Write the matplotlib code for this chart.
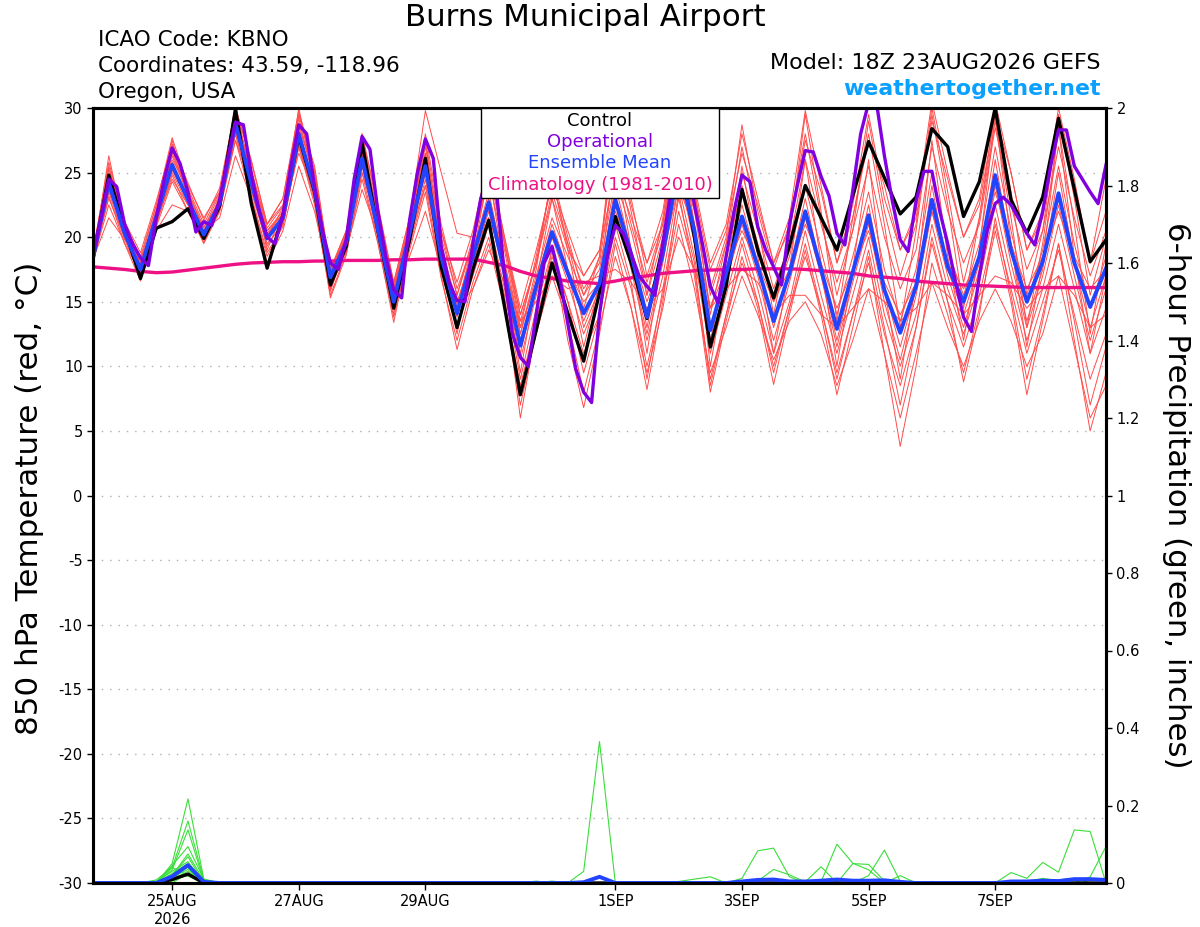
import numpy as np
import matplotlib.pyplot as plt
from matplotlib.patches import Rectangle
from matplotlib.ticker import FuncFormatter

plt.rcParams['font.family'] = ['DejaVu Sans']
plt.rcParams['axes.unicode_minus'] = False

# GEFS 18Z 23AUG2026, 6-hourly steps 0..384h (operational run is 3-hourly)
tick_steps = [5, 13, 21, 33, 41, 49, 57]
tick_labels = ['25AUG\n2026', '27AUG', '29AUG', '1SEP', '3SEP', '5SEP', '7SEP']

control = [18.3, 24.8, 20.6, 16.8, 20.7, 21.2, 22.2, 19.9, 22.4, 29.9, 22.6, 17.6, 21.7,
           27.8, 23.5, 16.3, 19.3, 27.3, 20.5, 14.5, 19.8, 26.1, 17.7, 13.0, 17.5,
           21.3, 14.6, 7.8, 12.8, 18.0, 14.1, 10.4, 15.7, 21.6, 18.0, 13.7, 19.3,
           26.5, 20.0, 11.5, 16.2, 23.7, 19.0, 15.3, 19.3, 24.0, 21.5, 19.0, 23.2,
           27.4, 24.6, 21.8, 23.1, 28.4, 27.0, 21.6, 24.3, 30.0, 22.9, 20.3, 23.1,
           29.2, 23.7, 18.1, 19.8]

ens_mean = [18.4, 24.2, 20.3, 17.5, 21.6, 25.6, 22.9, 20.2, 22.6, 28.8, 24.2, 19.9, 21.5,
            28.0, 23.7, 16.9, 19.6, 26.1, 20.6, 15.0, 20.3, 25.5, 18.5, 14.1, 18.5,
            22.7, 17.2, 11.6, 16.2, 20.4, 17.2, 14.1, 16.4, 22.9, 18.7, 13.8, 18.7,
            25.5, 20.5, 12.8, 17.2, 21.6, 17.7, 13.5, 17.2, 22.0, 17.5, 12.9, 17.3,
            21.7, 15.9, 12.6, 16.2, 22.9, 17.7, 15.0, 18.5, 24.8, 19.0, 15.0, 18.1,
            23.4, 18.0, 14.6, 17.6]

operational = [18.6, 21.5, 24.5, 23.9, 21.0, 19.5, 18.4, 17.8,
               21.5, 24.5, 26.9, 25.7, 23.5, 20.4, 21.2, 20.9,
               22.9, 26.0, 28.9, 28.7, 24.9, 22.0, 20.0, 19.5,
               21.7, 25.5, 28.7, 28.0, 23.9, 20.5, 18.0, 17.5,
               19.8, 24.5, 27.8, 26.8, 22.0, 18.5, 15.9, 15.3,
               21.3, 25.0, 27.6, 26.1, 19.3, 16.5, 15.1, 15.0,
               19.5, 23.0, 24.8, 23.5, 17.0, 12.5, 10.7, 10.0,
               14.0, 18.0, 19.3, 16.8, 13.3, 9.8, 8.0, 7.2,
               14.0, 18.5, 20.9, 20.3, 18.7, 17.0, 16.2, 15.5,
               19.5, 23.5, 26.5, 26.0, 22.5, 19.5, 16.2, 14.9,
               18.5, 22.0, 24.8, 24.3, 20.8, 19.0, 17.7, 16.3,
               21.0, 24.0, 26.7, 26.6, 24.7, 23.2, 20.3, 19.4,
               23.6, 28.0, 30.4, 30.4, 26.3, 22.8, 19.8, 18.9,
               22.8, 25.1, 25.1, 22.0, 19.5, 16.5, 13.8, 12.7,
               17.0, 20.5, 22.6, 23.1, 22.5, 21.4, 20.3, 19.4,
               22.0, 25.5, 28.3, 28.3, 25.5, 24.5, 23.5, 22.6,
               25.6]

climo = [17.7, 17.6, 17.5, 17.35, 17.25, 17.3, 17.45, 17.6, 17.75, 17.9, 18.0, 18.05, 18.1,
         18.1, 18.15, 18.15, 18.2, 18.2, 18.2, 18.25, 18.25, 18.3, 18.3, 18.3, 18.3,
         18.05, 17.8, 17.35, 17.0, 16.8, 16.6, 16.5, 16.4, 16.6, 16.85, 17.0, 17.2,
         17.3, 17.4, 17.45, 17.5, 17.5, 17.55, 17.55, 17.55, 17.5, 17.4, 17.3, 17.2,
         17.0, 16.9, 16.8, 16.6, 16.5, 16.4, 16.3, 16.25, 16.2, 16.15, 16.1, 16.1,
         16.1, 16.1, 16.1, 16.1]

m01 = [18.8, 25.0, 20.8, 18.0, 22.0, 26.5, 23.5, 20.5, 23.0, 29.5, 25.0, 20.5, 22.0,
       28.8, 24.5, 17.5, 20.0, 27.0, 21.5, 16.0, 21.0, 27.0, 20.0, 15.5, 19.5,
       25.0, 19.5, 13.5, 18.0, 23.5, 19.5, 16.0, 18.0, 26.0, 21.0, 16.5, 20.5,
       28.0, 23.0, 15.5, 19.5, 25.0, 20.5, 16.0, 19.5, 26.0, 21.0, 16.5, 20.5,
       25.5, 20.0, 16.0, 19.0, 27.0, 22.0, 18.0, 21.0, 28.5, 22.5, 17.5, 20.5,
       27.0, 21.5, 17.0, 20.5]
m02 = [18.0, 23.5, 19.8, 17.0, 21.0, 24.8, 22.0, 19.5, 22.0, 27.5, 23.0, 18.5, 21.0,
       27.0, 22.5, 15.5, 18.8, 24.5, 19.5, 13.8, 19.0, 23.5, 16.8, 12.0, 16.5,
       20.0, 15.0, 8.5, 13.5, 18.5, 15.0, 11.0, 14.0, 20.0, 16.0, 10.0, 15.5,
       22.0, 17.5, 9.0, 14.0, 18.0, 15.0, 10.0, 14.5, 18.5, 14.5, 9.5, 14.0,
       18.0, 12.5, 8.5, 13.0, 19.5, 15.0, 11.5, 15.5, 21.0, 16.0, 11.0, 15.0,
       19.0, 14.0, 9.0, 12.5]
m03 = [18.5, 26.3, 20.5, 16.8, 21.8, 27.5, 23.0, 19.8, 23.2, 30.3, 24.5, 19.0, 22.0,
       30.0, 24.0, 15.8, 19.5, 28.0, 20.8, 14.0, 20.5, 27.5, 18.5, 12.5, 18.5,
       25.0, 17.5, 9.5, 16.5, 23.0, 17.5, 11.5, 16.5, 26.5, 19.0, 11.0, 19.0,
       28.5, 21.0, 10.0, 17.0, 25.5, 18.5, 11.0, 17.5, 26.0, 18.0, 10.0, 17.5,
       26.0, 16.0, 9.0, 16.5, 27.5, 18.5, 12.0, 19.0, 29.5, 19.5, 11.5, 18.0,
       28.5, 18.5, 11.0, 17.0]
m04 = [18.6, 24.5, 20.5, 18.2, 22.5, 26.0, 23.8, 21.0, 23.5, 28.5, 25.0, 21.0, 22.5,
       28.5, 25.0, 17.5, 20.5, 26.5, 22.0, 16.5, 21.5, 26.5, 20.5, 16.5, 20.5,
       26.0, 20.0, 14.5, 19.0, 24.0, 20.5, 17.0, 19.0, 27.5, 22.5, 18.0, 22.0,
       29.5, 24.0, 18.0, 21.0, 28.0, 23.0, 18.0, 21.5, 29.8, 24.0, 18.0, 22.5,
       29.5, 23.0, 19.0, 22.0, 30.5, 25.0, 20.0, 23.0, 30.5, 25.0, 19.0, 22.0,
       30.0, 24.5, 18.0, 24.5]
m05 = [18.2, 22.5, 19.5, 17.2, 21.0, 25.0, 22.5, 19.8, 22.2, 28.0, 23.5, 19.5, 21.0,
       27.0, 23.0, 16.0, 19.0, 25.5, 20.0, 14.5, 19.5, 24.5, 17.5, 13.0, 17.0,
       21.0, 15.5, 6.0, 13.0, 19.0, 12.0, 6.8, 12.5, 19.5, 14.5, 8.2, 15.0,
       23.5, 17.0, 8.0, 13.5, 18.5, 14.5, 8.6, 14.0, 19.0, 14.0, 7.8, 13.0,
       18.5, 11.0, 3.8, 10.0, 18.0, 14.0, 9.5, 14.5, 20.5, 15.0, 7.8, 13.5,
       19.5, 12.0, 5.0, 9.5]
m06 = [18.4, 23.0, 20.0, 18.0, 21.2, 24.5, 22.5, 20.5, 22.5, 27.5, 24.0, 20.5, 21.8,
       26.5, 23.5, 17.5, 19.8, 25.0, 21.0, 16.0, 20.0, 24.0, 19.0, 15.0, 18.5,
       21.5, 18.0, 13.0, 16.5, 20.0, 17.5, 15.0, 16.5, 22.0, 19.0, 15.0, 18.5,
       24.0, 20.5, 14.5, 17.5, 20.5, 18.0, 15.0, 17.5, 21.0, 18.0, 14.5, 17.5,
       20.5, 16.5, 14.0, 16.5, 22.0, 18.0, 16.0, 18.5, 23.5, 19.5, 16.0, 18.5,
       22.0, 18.5, 16.0, 17.5]
m07 = [19.0, 25.5, 21.0, 18.5, 22.5, 27.7, 24.0, 21.5, 23.5, 30.0, 26.0, 21.0, 23.0,
       29.5, 25.5, 17.5, 20.5, 28.0, 22.5, 16.5, 21.5, 29.8, 25.0, 20.3, 20.0,
       26.0, 20.0, 14.0, 18.0, 24.8, 19.0, 13.0, 16.0, 23.0, 17.5, 12.0, 17.0,
       24.0, 18.5, 11.0, 15.5, 20.0, 16.0, 11.0, 15.0, 20.5, 15.5, 11.0, 15.5,
       20.0, 14.0, 10.0, 14.0, 21.0, 16.0, 12.5, 16.5, 22.5, 17.0, 12.0, 16.0,
       21.0, 16.0, 11.0, 14.5]
m08 = [18.3, 21.5, 19.8, 18.5, 20.5, 22.5, 22.0, 20.5, 21.5, 26.3, 23.0, 18.0, 20.5,
       25.5, 22.0, 16.5, 19.0, 23.7, 20.2, 16.5, 18.5, 22.0, 17.5, 14.5, 16.0,
       19.0, 16.5, 13.5, 15.0, 17.0, 16.0, 16.5, 17.0, 17.5, 16.5, 14.5, 16.0,
       20.0, 17.5, 14.5, 16.0, 17.5, 16.5, 14.0, 15.5, 15.5, 14.0, 13.0, 14.5,
       16.0, 15.0, 13.5, 14.5, 16.5, 15.5, 14.0, 15.5, 17.0, 16.5, 14.5, 16.0,
       17.0, 15.5, 13.0, 14.0]
m09 = [18.7, 24.8, 20.8, 17.5, 21.5, 26.8, 23.2, 20.0, 23.0, 29.8, 24.8, 20.0, 22.3,
       29.2, 24.2, 16.0, 19.5, 27.5, 21.8, 15.5, 20.8, 26.5, 19.5, 14.5, 19.5,
       24.5, 19.0, 12.5, 17.5, 25.0, 20.0, 15.5, 18.5, 29.6, 23.0, 17.0, 21.0,
       29.5, 23.5, 16.0, 20.0, 28.7, 22.0, 17.5, 21.0, 28.0, 21.5, 15.5, 20.5,
       29.0, 22.0, 17.0, 21.0, 30.0, 23.5, 16.5, 21.5, 30.0, 23.5, 15.5, 20.5,
       29.5, 23.0, 15.5, 20.0]
m10 = [18.1, 23.8, 20.0, 17.2, 21.2, 25.2, 22.8, 20.0, 22.3, 28.3, 23.8, 19.3, 21.2,
       27.5, 23.0, 16.3, 19.2, 25.8, 20.3, 14.8, 20.0, 25.0, 18.0, 13.0, 17.5,
       21.5, 16.0, 9.0, 14.5, 19.0, 15.0, 9.5, 14.0, 21.0, 16.5, 9.0, 16.0,
       23.0, 18.0, 8.5, 14.0, 19.5, 15.0, 9.5, 14.5, 19.5, 14.5, 9.0, 14.0,
       19.0, 13.0, 7.0, 13.0, 20.0, 15.0, 8.8, 14.0, 21.5, 15.5, 9.0, 14.0,
       19.5, 13.5, 7.0, 11.5]
m11 = [18.5, 24.3, 20.2, 17.4, 21.7, 25.8, 23.0, 20.3, 22.8, 29.0, 24.3, 20.0, 21.7,
       28.3, 23.8, 17.0, 19.8, 26.5, 20.8, 15.2, 20.5, 25.8, 18.8, 14.0, 18.8,
       23.5, 17.8, 11.0, 16.5, 21.0, 17.5, 13.5, 16.5, 24.0, 19.0, 13.0, 19.0,
       27.0, 21.0, 12.0, 17.5, 22.5, 18.0, 13.0, 17.5, 23.0, 17.5, 12.0, 17.0,
       22.5, 16.0, 11.5, 16.0, 24.0, 17.5, 14.0, 18.0, 26.0, 19.0, 13.5, 17.5,
       25.0, 18.0, 13.0, 17.0]
m12 = [18.3, 24.0, 20.3, 17.8, 21.8, 26.3, 23.3, 20.8, 22.8, 28.8, 24.5, 20.3, 21.8,
       28.0, 24.0, 17.2, 20.0, 26.3, 21.0, 15.8, 20.8, 25.3, 18.8, 14.8, 19.0,
       23.0, 18.0, 12.5, 17.0, 21.5, 18.5, 15.5, 17.5, 24.5, 20.5, 15.5, 20.0,
       26.5, 22.0, 14.5, 18.5, 24.0, 19.5, 15.0, 18.5, 24.0, 19.0, 14.0, 18.5,
       23.5, 17.5, 13.5, 17.5, 25.0, 19.0, 15.5, 19.5, 27.0, 20.5, 15.0, 19.0,
       25.5, 19.5, 14.5, 18.5]
m13 = [18.0, 23.2, 19.5, 16.6, 20.8, 24.3, 22.0, 19.6, 22.0, 28.0, 23.2, 18.8, 20.8,
       27.2, 22.8, 15.3, 18.6, 25.0, 19.6, 13.4, 19.3, 24.0, 17.0, 11.3, 16.0,
       19.5, 14.5, 7.0, 12.5, 17.0, 13.5, 8.0, 13.0, 18.5, 14.5, 9.5, 14.5,
       21.0, 16.0, 9.5, 13.0, 17.0, 14.0, 10.5, 13.5, 15.0, 12.5, 8.5, 12.0,
       16.0, 11.0, 6.0, 11.0, 16.5, 13.0, 10.0, 13.5, 16.0, 13.5, 10.0, 12.5,
       17.0, 11.5, 6.0, 8.5]
m14 = [18.6, 25.3, 21.0, 17.9, 22.2, 27.0, 23.6, 20.7, 23.3, 29.3, 25.3, 20.7, 22.4,
       29.5, 24.8, 17.0, 20.2, 27.3, 21.5, 15.8, 21.3, 27.5, 20.5, 15.5, 20.0,
       26.5, 19.5, 13.0, 18.5, 24.5, 19.5, 14.5, 18.5, 28.0, 22.0, 15.5, 21.5,
       29.5, 23.0, 14.0, 19.5, 27.0, 21.0, 14.0, 20.0, 29.5, 22.0, 13.5, 21.5,
       28.0, 21.0, 13.0, 20.5, 29.5, 22.5, 14.5, 21.5, 29.0, 21.5, 13.0, 19.5,
       28.5, 21.0, 12.5, 19.5]
m15 = [18.4, 23.6, 20.6, 18.2, 21.4, 25.3, 23.0, 20.3, 22.7, 28.2, 24.2, 20.2, 21.6,
       27.8, 23.3, 16.8, 19.4, 25.6, 20.5, 15.0, 20.2, 25.0, 18.5, 13.8, 18.0,
       22.0, 17.0, 10.5, 15.5, 20.0, 16.5, 12.5, 15.5, 22.5, 18.0, 12.5, 18.0,
       25.0, 19.5, 11.5, 16.5, 21.0, 17.0, 12.0, 16.5, 21.5, 17.0, 11.5, 16.5,
       21.0, 15.0, 10.5, 15.5, 22.0, 17.0, 13.0, 17.5, 24.0, 18.0, 13.0, 17.0,
       22.5, 17.0, 12.0, 16.0]
m16 = [18.9, 25.8, 21.2, 18.8, 22.8, 27.2, 24.2, 21.3, 23.8, 30.0, 25.8, 21.0, 23.0,
       29.8, 25.2, 17.3, 20.3, 27.8, 22.3, 16.3, 21.0, 28.0, 21.0, 16.0, 19.5,
       25.5, 19.5, 14.0, 18.0, 23.0, 19.0, 17.0, 19.0, 25.0, 21.5, 18.0, 21.0,
       28.0, 23.5, 17.5, 20.5, 26.5, 22.5, 18.0, 20.5, 27.5, 23.5, 18.0, 21.5,
       27.5, 24.0, 19.0, 21.5, 29.0, 24.5, 20.0, 22.5, 29.5, 25.0, 19.0, 21.5,
       29.0, 23.5, 18.0, 22.0]
members = [m01, m02, m03, m04, m05, m06, m07, m08, m09, m10, m11, m12, m13, m14, m15, m16]

# 6-hour precipitation (inches)
p01 = [0]*5 + [0.05, 0.217, 0.01] + [0]*23 + [0.03, 0.365] + [0]*32
p02 = [0]*5 + [0.034, 0.137, 0.005] + [0]*33 + [0.012, 0.083, 0.09, 0.016] + [0]*20
p03 = [0]*5 + [0.045, 0.094, 0.01] + [0]*34 + [0.005, 0.035, 0.021, 0.003, 0.042] + [0]*18
p04 = [0]*5 + [0.02, 0.068] + [0]*39 + [0.003, 0.1, 0.051, 0.034] + [0]*15
p05 = [0]*4 + [0.005, 0.03, 0.055] + [0]*42 + [0.019, 0.085, 0.004] + [0]*13
p06 = [0]*5 + [0.017, 0.04] + [0]*51 + [0.027, 0.012, 0.053, 0.028, 0.137, 0.133, 0.0]
p07 = [0]*5 + [0.01, 0.03] + [0]*56 + [0.016, 0.094]
p08 = [0]*4 + [0.008, 0.04, 0.02] + [0]*30 + [0.004, 0.01, 0.016] + [0]*25
p09 = [0]*6 + [0.025] + [0]*21 + [0.005] + [0]*19 + [0.05, 0.048, 0.005] + [0]*14
p10 = [0]*5 + [0.012, 0.018] + [0]*22 + [0.005] + [0]*29 + [0.004, 0.012, 0.006] + [0]*3
p11 = [0]*5 + [0.025, 0.05, 0.004] + [0]*43 + [0.019] + [0]*13
p12 = [0]*5 + [0.04, 0.16, 0.008] + [0]*57
p13 = [0]*5 + [0.015, 0.035] + [0]*58
p14 = [0]*5 + [0.02, 0.075, 0.006] + [0]*57
p15 = [0]*5 + [0.008, 0.045] + [0]*46 + [0.004] + [0]*11
p16 = [0]*5 + [0.005, 0.022] + [0]*54 + [0.008, 0.012] + [0]*2
precip_members = [p01, p02, p03, p04, p05, p06, p07, p08, p09, p10, p11, p12, p13, p14, p15, p16]
precip_mean = ([0]*5 + [0.017, 0.046, 0.003] + [0]*23 + [0.002, 0.016] + [0]*8
               + [0.004, 0.008, 0.009, 0.004, 0.004, 0.006, 0.009, 0.006, 0.006, 0.007, 0.003]
               + [0]*6 + [0.004, 0.004, 0.006, 0.005, 0.01, 0.01, 0.008])
precip_control = [0]*5 + [0.009, 0.023] + [0]*58

W, H = 1200, 927
fig = plt.figure(figsize=(W / 100, H / 100), dpi=100)
ax = fig.add_axes([93 / W, 44 / H, 1013 / W, 775 / H])
ax2 = ax.twinx()

x6 = np.arange(len(control))
x3 = np.arange(len(operational)) / 2.0

ax.grid(axis='y', color='#b0b0b0', lw=1.0, ls=(0, (1, 5)))
for m in members:
    ax.plot(x6, m, color='#ff4c4c', lw=0.7)
ax.plot(x6, climo, color='#ee1185', lw=2.4)
ax.plot(x6, control, color='black', lw=2.4)
ax.plot(x6, ens_mean, color='#2244ff', lw=2.8)
ax.plot(x3, operational, color='#8000e0', lw=2.4)

for p in precip_members:
    ax2.plot(x6, p, color='#3ade3a', lw=0.8)
ax2.plot(x6, precip_control, color='black', lw=2.4)
ax2.plot(x6, precip_mean, color='#2244ff', lw=2.8)

ax.set_xlim(0, len(control) - 1)
ax.set_ylim(-30, 30)
ax2.set_ylim(0, 2)
ax.set_yticks(range(-30, 31, 5))
ax.set_xticks(tick_steps)
ax.set_xticklabels(tick_labels)
ax2.set_yticks(np.arange(0, 2.01, 0.2))
ax2.yaxis.set_major_formatter(FuncFormatter(lambda v, pos: f'{v:g}'))

ax.tick_params(axis='both', labelsize=10.5, length=4, width=1)
ax.tick_params(axis='x', length=5, pad=3)
ax2.tick_params(axis='y', labelsize=10.5, length=4, width=1)
for a in (ax, ax2):
    for s in a.spines.values():
        s.set_linewidth(2.2)

fig.text(30 / W, 1 - 498 / H, '850 hPa Temperature (red, °C)', rotation=90,
         ha='center', va='center', fontsize=22.3)
fig.text(1176 / W, 1 - 495 / H, '6-hour Precipitation (green, inches)', rotation=-90,
         ha='center', va='center', fontsize=22.2)

fig.text(585 / W, 1 - 18 / H, 'Burns Municipal Airport', ha='center', va='center', fontsize=22.2)
fig.text(98 / W, 1 - 40 / H, 'ICAO Code: KBNO', ha='left', va='center', fontsize=15.5)
fig.text(98 / W, 1 - 66 / H, 'Coordinates: 43.59, -118.96', ha='left', va='center', fontsize=15.5)
fig.text(98 / W, 1 - 92 / H, 'Oregon, USA', ha='left', va='center', fontsize=15.5)
fig.text(1101 / W, 1 - 63 / H, 'Model: 18Z 23AUG2026 GEFS', ha='right', va='center', fontsize=16)
fig.text(1101 / W, 1 - 89 / H, 'weathertogether.net', ha='right', va='center', fontsize=15.8,
         fontweight='bold', color='#0aa0ff')

box = Rectangle((481 / W, 1 - 198 / H), 238 / W, 90 / H, transform=fig.transFigure,
                facecolor='white', edgecolor='black', lw=1.0, zorder=5)
fig.add_artist(box)
legend_items = [('Control', 'black', 121), ('Operational', '#8000e0', 142),
                ('Ensemble Mean', '#2244ff', 163), ('Climatology (1981-2010)', '#ee1185', 185)]
for label, col, yy in legend_items:
    fig.text(600 / W, 1 - yy / H, label, ha='center', va='center', fontsize=13,
             color=col, zorder=6)

fig.savefig('out.png', dpi=100)
